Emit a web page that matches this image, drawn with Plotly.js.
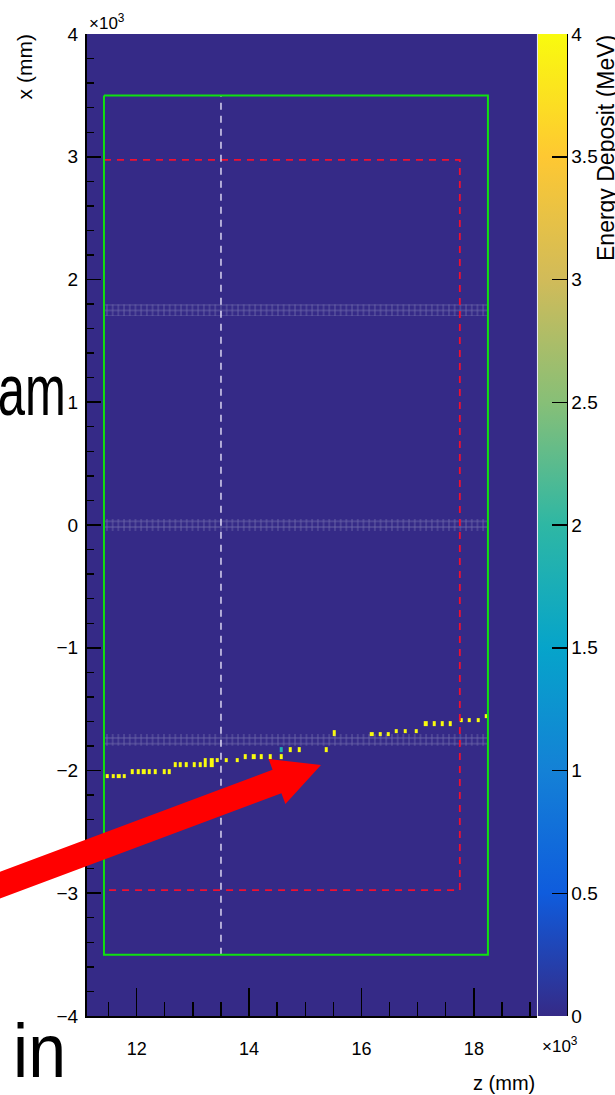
<!DOCTYPE html>
<html>
<head>
<meta charset="utf-8">
<script src="https://cdn.plot.ly/plotly-3.0.1.min.js"></script>
<style>html,body{margin:0;padding:0;background:#fff;}#plot{width:615px;height:1095px;}</style>
</head>
<body>
<div id="plot"></div>
<script>
// ---- data (mm, MeV) ----
const hitZ = [
  11477, 11578, 11680, 11779,
  11922, 12023, 12125, 12231, 12338, 12486, 12587,
  12681, 12783, 12883, 13025, 13126, 13221, 13335,
  13221, 13335, 13434, 13589, 13785,
  13932, 14082, 14224, 14372, 14580,
  14580, 14740, 14888, 15374,
  15523, 15523,
  16182, 16329, 16477,
  16626, 16774, 16970,
  17143, 17290, 17433, 17580,
  17776, 17925, 18073,
  18221
];
const hitX = [
  -2045, -2045, -2045, -2045,
  -2009, -2009, -2009, -2009, -2009, -2009, -2009,
  -1952, -1952, -1952, -1952, -1952, -1952, -1952,
  -1917, -1917, -1917, -1917, -1917,
  -1887, -1887, -1887, -1887, -1887,
  -1830, -1830, -1830, -1830,
  -1706, -1688,
  -1705, -1705, -1705,
  -1678, -1678, -1678,
  -1618, -1618, -1618, -1618,
  -1588, -1588, -1588,
  -1558
];
const hitE = [
  4, 4, 4, 4,
  4, 4, 4, 4, 4, 4, 4,
  4, 4, 4, 4, 4, 4, 4,
  4, 4, 4, 4, 4,
  4, 4, 4, 4, 4,
  1.8, 4, 4, 4,
  4, 4,
  4, 4, 4,
  4, 4, 4,
  4, 4, 4, 4,
  4, 4, 4,
  4
];
const zTickVals = [12000, 14000, 16000, 18000];
const zTickText = ['12', '14', '16', '18'];
const xTickVals = [-4000, -3000, -2000, -1000, 0, 1000, 2000, 3000, 4000];
const xTickText = ['\u22124', '\u22123', '\u22122', '\u22121', '0', '1', '2', '3', '4'];
const cbTickVals = [0, 0.5, 1, 1.5, 2, 2.5, 3, 3.5, 4];
const cbTickText = ['0', '0.5', '1', '1.5', '2', '2.5', '3', '3.5', '4'];
// detector outlines (mm)
const outerZ = [11418, 18250];
const outerX = [-3500, 3500];
const innerZ = [11418, 17750];
const innerX = [-2975, 2975];
const markerZ = [13500];
const bandX = [1750, 0, -1750];

// ---- build sparse heatmap grid from hits ----
const CELL_W = 55, CELL_H = 35;
function uniq(a){ return Array.from(new Set(a.map(v => Math.round(v*10)/10))).sort((p,q)=>p-q); }
const zEdges = uniq(hitZ.flatMap(z => [z - CELL_W/2, z + CELL_W/2]));
const xEdges = uniq(hitX.flatMap(x => [x - CELL_H/2, x + CELL_H/2]));
const grid = [];
for (let r = 0; r < xEdges.length - 1; r++) {
  const xc = (xEdges[r] + xEdges[r+1]) / 2;
  const row = [];
  for (let c = 0; c < zEdges.length - 1; c++) {
    const zc = (zEdges[c] + zEdges[c+1]) / 2;
    let v = null;
    for (let i = 0; i < hitZ.length; i++) {
      if (Math.abs(zc - hitZ[i]) < CELL_W/2 && Math.abs(xc - hitX[i]) < CELL_H/2) { v = hitE[i]; break; }
    }
    row.push(v);
  }
  grid.push(row);
}

const kBird = [
  [0.000, 'rgb(53,42,135)'], [0.125, 'rgb(15,92,221)'], [0.250, 'rgb(20,129,214)'],
  [0.375, 'rgb(6,164,202)'], [0.500, 'rgb(46,183,164)'], [0.625, 'rgb(135,191,119)'],
  [0.750, 'rgb(209,187,89)'], [0.875, 'rgb(254,200,50)'], [1.000, 'rgb(249,251,14)']
];

const traces = [];
traces.push({
  type: 'heatmap', x: zEdges, y: xEdges, z: grid, zmin: 0, zmax: 4,
  colorscale: kBird, hoverinfo: 'skip', zsmooth: false,
  colorbar: {
    x: 1.002, xanchor: 'left', xref: 'paper', xpad: 0, y: 0.5, yanchor: 'middle', ypad: 0,
    len: 1, lenmode: 'fraction', thickness: 29, thicknessmode: 'pixels', outlinewidth: 0,
    ticks: 'inside', ticklen: 15, tickwidth: 1.5, tickcolor: '#000',
    tickvals: cbTickVals, ticktext: cbTickText,
    tickfont: {size: 19, color: '#000', family: 'Liberation Sans, Arial, sans-serif'},
    title: {text: ''}
  }
});
// hatched bands
bandX.forEach(c => {
  traces.push({
    type: 'scatter', mode: 'lines', hoverinfo: 'skip',
    x: [outerZ[0], outerZ[1], outerZ[1], outerZ[0], outerZ[0]],
    y: [c - 48, c - 48, c + 48, c + 48, c - 48],
    fill: 'toself', fillcolor: 'rgba(0,0,0,0)',
    fillpattern: {shape: '+', size: 5.7, solidity: 0.25, fgcolor: 'rgba(165,165,205,0.55)'},
    line: {width: 0}
  });
});
// red dashed fiducial
traces.push({
  type: 'scatter', mode: 'lines', hoverinfo: 'skip',
  x: [innerZ[0], innerZ[1], innerZ[1], innerZ[0], innerZ[0]],
  y: [innerX[1], innerX[1], innerX[0], innerX[0], innerX[1]],
  line: {color: '#f01030', width: 1.8, dash: '7px,6px'}
});
// white dashed marker line
traces.push({
  type: 'scatter', mode: 'lines', hoverinfo: 'skip',
  x: [markerZ[0], markerZ[0]], y: [outerX[0], outerX[1]],
  line: {color: 'rgba(225,220,245,0.9)', width: 1.6, dash: '7px,6px'}
});
// green outline
traces.push({
  type: 'scatter', mode: 'lines', hoverinfo: 'skip',
  x: [outerZ[0], outerZ[1], outerZ[1], outerZ[0], outerZ[0]],
  y: [outerX[1], outerX[1], outerX[0], outerX[0], outerX[1]],
  line: {color: '#10e010', width: 2}
});

// ---- overlay arrow (figure pixels -> paper) ----
const M = {l: 87, r: 78, t: 34, b: 79};
const PW = 615 - M.l - M.r, PH = 1095 - M.t - M.b;
function pp(px, py){ return ((px - M.l) / PW).toFixed(5) + ',' + ((1095 - M.b - py) / PH).toFixed(5); }
const arrowPx = [[321,765],[268.6,759.0],[272.6,769.8],[-34.4,884.6],[-25.6,908.0],[281.4,793.2],[285.4,804.0]];
const arrowPath = 'M' + arrowPx.map(p => pp(p[0], p[1])).join('L') + 'Z';

const FONT = 'Liberation Sans, Arial, Helvetica, sans-serif';
const layout = {
  width: 615, height: 1095,
  margin: {l: M.l, r: M.r, t: M.t, b: M.b, pad: 0, autoexpand: false},
  paper_bgcolor: '#ffffff', plot_bgcolor: '#352a87',
  showlegend: false, hovermode: false,
  font: {family: FONT, color: '#000'},
  xaxis: {
    range: [11116, 19123], showgrid: false, zeroline: false,
    showline: true, linecolor: '#000', linewidth: 2,
    ticks: 'inside', ticklen: 28, tickwidth: 1.6, tickcolor: '#000',
    tickvals: zTickVals, ticktext: zTickText, ticklabelstandoff: 15,
    tickfont: {size: 18, family: FONT, color: '#000'},
    minor: {ticks: 'inside', ticklen: 14, tickwidth: 1.4, tickcolor: '#000', dtick: 500, tick0: 0, showgrid: false}
  },
  yaxis: {
    range: [-4000, 4000], showgrid: false, zeroline: false,
    showline: true, linecolor: '#000', linewidth: 2,
    ticks: 'inside', ticklen: 14, tickwidth: 1.6, tickcolor: '#000',
    tickvals: xTickVals, ticktext: xTickText, ticklabelstandoff: 3,
    tickfont: {size: 19, family: FONT, color: '#000'},
    minor: {ticks: 'inside', ticklen: 7, tickwidth: 1.4, tickcolor: '#000', dtick: 200, tick0: 0, showgrid: false}
  },
  shapes: [
    {type: 'line', xref: 'paper', yref: 'paper', x0: 1.0667, x1: 1.0667, y0: 0, y1: 1, line: {color: '#000', width: 2}},
    {type: 'line', xref: 'paper', yref: 'paper', x0: 1.001, x1: 1.001, y0: 0, y1: 1, line: {color: '#e6e6f2', width: 1}},
    {type: 'path', xref: 'paper', yref: 'paper', path: arrowPath, fillcolor: '#ff0000', line: {width: 0}, layer: 'above'}
  ],
  annotations: [
    {xref: 'paper', yref: 'paper', x: 0, y: 0.999, xanchor: 'left', yanchor: 'bottom', showarrow: false,
     text: '\u00d710<sup>3</sup>', font: {size: 17, family: FONT, color: '#000'}},
    {xref: 'paper', yref: 'paper', x: 1.0067, y: -0.0295, xanchor: 'left', yanchor: 'middle', showarrow: false,
     text: '\u00d710<sup>3</sup>', font: {size: 17, family: FONT, color: '#000'}},
    {xref: 'paper', yref: 'paper', x: -0.138, y: 1.002, xanchor: 'center', yanchor: 'top', showarrow: false, textangle: -90,
     text: 'x (mm)', font: {size: 21, family: FONT, color: '#000'}},
    {xref: 'paper', yref: 'paper', x: 1.0, y: -0.0682, xanchor: 'right', yanchor: 'middle', showarrow: false,
     text: 'z (mm)', font: {size: 20, family: FONT, color: '#000'}},
    {xref: 'paper', yref: 'paper', x: 1.1533, y: 1.001, xanchor: 'center', yanchor: 'top', showarrow: false, textangle: -90,
     text: 'Energy Deposit (MeV)', font: {size: 23, family: FONT, color: '#000'}},
    {xref: 'paper', yref: 'paper', x: -0.1244, y: 0.6378, xanchor: 'center', yanchor: 'middle', showarrow: false,
     text: 'am', font: {size: 73, family: FONT, color: '#000'}},
    {xref: 'paper', yref: 'paper', x: -0.1056, y: -0.0353, xanchor: 'center', yanchor: 'middle', showarrow: false,
     text: 'in', font: {size: 76, family: FONT, color: '#000'}}
  ]
};

Plotly.newPlot('plot', traces, layout, {displayModeBar: false, staticPlot: true}).then(() => {
  const squeeze = {am: 68, 'in': 53};
  document.querySelectorAll('#plot text.annotation-text').forEach(t => {
    const k = t.textContent;
    if (squeeze[k]) {
      t.setAttribute('textLength', squeeze[k]);
      t.setAttribute('lengthAdjust', 'spacingAndGlyphs');
    }
  });
});
</script>
</body>
</html>
